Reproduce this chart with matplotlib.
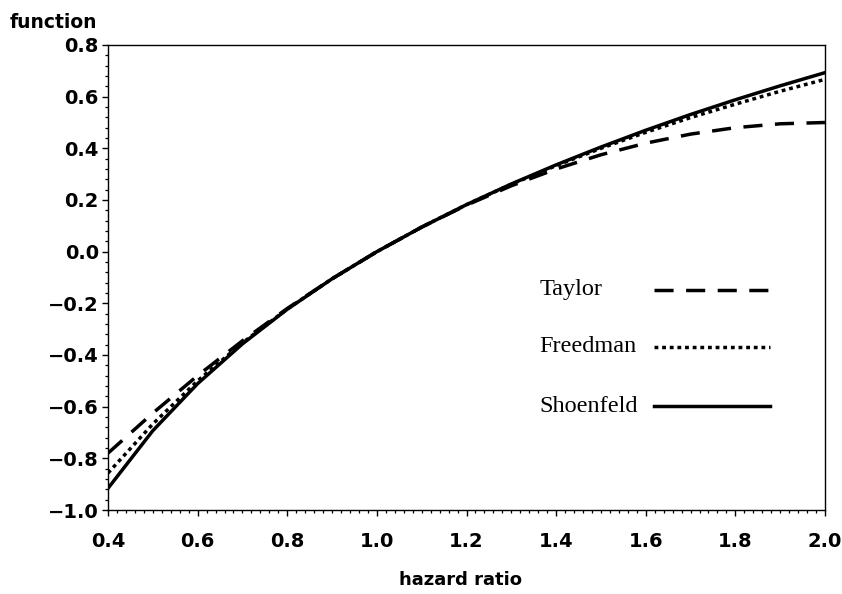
import matplotlib
matplotlib.use("Agg")
import matplotlib.pyplot as plt
from matplotlib.ticker import MultipleLocator, FuncFormatter

# values
hazard = [0.4, 0.5, 0.6, 0.7, 0.8, 0.9, 1.0, 1.1, 1.2, 1.3, 1.4, 1.5, 1.6, 1.7, 1.8, 1.9, 2.0]
taylor = [-0.780, -0.625, -0.480, -0.345, -0.220, -0.105, 0.0, 0.095, 0.180, 0.255,
          0.320, 0.375, 0.420, 0.455, 0.480, 0.495, 0.500]
freedman = [-0.857, -0.667, -0.500, -0.353, -0.222, -0.105, 0.0, 0.095, 0.182, 0.261,
            0.333, 0.400, 0.462, 0.519, 0.571, 0.621, 0.667]
shoenfeld = [-0.916, -0.693, -0.511, -0.357, -0.223, -0.105, 0.0, 0.095, 0.182, 0.262,
             0.336, 0.405, 0.470, 0.531, 0.588, 0.642, 0.693]

names = ["Taylor", "Freedman", "Shoenfeld"]

W, H = 842, 594
fig = plt.figure(figsize=(W / 100, H / 100), dpi=100)
ax = fig.add_axes([108 / W, 1 - 510 / H, (825 - 108) / W, (510 - 45) / H])

lw = 2.5
dash = (0, (5.5, 3.6))
dot = (0, (1.1, 1.1))
styles = [dict(linestyle=dash, dash_capstyle="butt"),
          dict(linestyle=dot, dash_capstyle="butt"),
          dict(linestyle="-")]

for ys, st in zip([taylor, freedman, shoenfeld], styles):
    ax.plot(hazard, ys, color="black", linewidth=lw, **st)

# legend drawn inside the plot: text + line sample
for name, y, st in zip(names, [-0.148, -0.369, -0.598], styles):
    ax.text(1.362, y, name, family="Liberation Serif", fontsize=17.5,
            ha="left", va="center")
    ax.plot([1.618, 1.877], [y, y], color="black", linewidth=lw, **st)

ax.set_xlim(0.4, 2.0)
ax.set_ylim(-1.0, 0.8)
ax.xaxis.set_major_locator(MultipleLocator(0.2))
ax.xaxis.set_minor_locator(MultipleLocator(0.02))
ax.yaxis.set_major_locator(MultipleLocator(0.2))
ax.yaxis.set_minor_locator(MultipleLocator(0.04))

fmt = FuncFormatter(lambda v, p: ("%.1f" % v).replace("-", "\u2212"))
ax.xaxis.set_major_formatter(fmt)
ax.yaxis.set_major_formatter(fmt)

ax.tick_params(which="major", direction="out", length=4.5, width=1.0,
               labelsize=14, pad=11)
ax.tick_params(axis="y", which="major", pad=2)
ax.tick_params(which="minor", direction="out", length=2.5, width=0.9)
for lab in ax.get_xticklabels() + ax.get_yticklabels():
    lab.set_fontweight("bold")
for s in ax.spines.values():
    s.set_linewidth(1.0)

fig.text(10 / W, 1 - 22 / H, "function", fontsize=13.5, fontweight="bold",
         ha="left", va="center")
fig.text(460 / W, 1 - 580 / H, "hazard ratio", fontsize=13, fontweight="bold",
         ha="center", va="center")

fig.savefig("out.png", dpi=100)
